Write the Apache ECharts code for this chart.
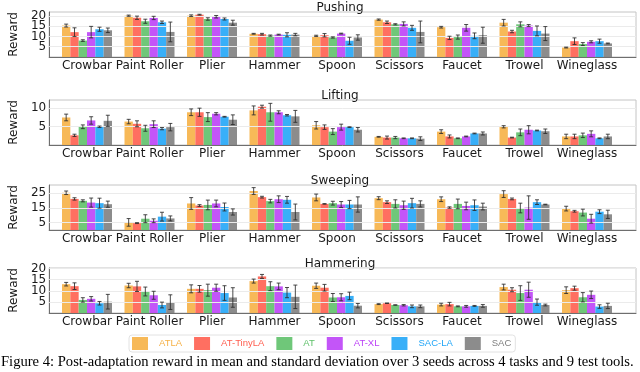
<!DOCTYPE html>
<html>
<head>
<meta charset="utf-8">
<script src="https://cdn.jsdelivr.net/npm/echarts@6/dist/echarts.min.js"></script>
<style>
  html, body { margin: 0; padding: 0; background: #fff; }
  #main { width: 640px; height: 372px; }
</style>
</head>
<body>
<div id="main"></div>
<script>
// 工具 / 方法
var tools = ['Crowbar', 'Paint Roller', 'Plier', 'Hammer', 'Spoon', 'Scissors', 'Faucet', 'Trowel', 'Wineglass'];
var methods = ['ATLA', 'AT-TinyLA', 'AT', 'AT-XL', 'SAC-LA', 'SAC'];
var colors = ['#f6b146', '#ff5f50', '#5fc16a', '#bc43f7', '#22a6f7', '#7f7f7f'];
var tasks = ['Pushing', 'Lifting', 'Sweeping', 'Hammering'];

// rows = methods, columns = tools
var pushingMean = [
  [15.3, 20.1, 20.1, 11.3, 10.3, 18.2, 14.5, 16.7, 4.6],
  [12.1, 19.1, 20.6, 11.1, 10.6, 16.9, 9.3, 12.4, 7.7],
  [8.0, 17.4, 18.5, 10.4, 9.5, 15.9, 9.7, 15.9, 6.3],
  [12.1, 19.0, 19.6, 10.9, 11.4, 16.1, 14.2, 15.3, 7.4],
  [13.5, 16.9, 18.5, 10.8, 7.9, 14.2, 10.3, 12.7, 7.7],
  [13.0, 12.2, 16.7, 10.9, 9.5, 12.2, 10.6, 11.4, 6.6]
];
var pushingSd = [
  [0.7, 0.3, 0.4, 0.2, 0.3, 0.3, 0.4, 1.6, 0.2],
  [2.1, 0.8, 0.2, 0.4, 0.8, 0.6, 0.8, 0.6, 1.6],
  [0.4, 1.0, 0.6, 0.3, 0.3, 0.3, 1.0, 1.2, 0.7],
  [2.8, 0.8, 0.6, 0.2, 0.2, 1.0, 1.6, 0.5, 0.5],
  [1.0, 0.6, 0.5, 1.0, 1.7, 1.2, 1.4, 2.4, 1.0],
  [1.1, 4.8, 1.2, 0.6, 1.3, 5.3, 3.9, 3.4, 0.2]
];
var liftingMean = [
  [7.4, 6.3, 8.8, 9.3, 5.3, 2.2, 3.6, 4.9, 2.3],
  [2.6, 5.7, 8.8, 10.3, 4.8, 2.0, 2.3, 2.0, 2.3],
  [4.9, 4.5, 7.5, 8.8, 3.6, 2.0, 1.8, 3.4, 2.6],
  [6.6, 5.6, 8.4, 8.8, 4.8, 1.8, 2.3, 4.1, 3.0],
  [4.9, 4.4, 7.6, 8.0, 4.8, 1.8, 3.1, 3.9, 1.8],
  [6.5, 4.8, 6.8, 7.7, 4.1, 1.7, 3.1, 3.7, 2.3]
];
var liftingSd = [
  [0.9, 0.6, 0.9, 1.2, 1.0, 0.1, 0.5, 0.3, 0.6],
  [0.3, 0.8, 1.1, 0.4, 0.6, 0.4, 0.4, 0.1, 0.6],
  [0.5, 0.8, 1.2, 2.4, 0.8, 0.3, 0.1, 0.9, 0.6],
  [1.0, 0.9, 0.3, 0.4, 0.8, 0.1, 0.1, 1.1, 0.8],
  [0.2, 0.3, 0.1, 0.2, 0.1, 0.1, 0.1, 0.1, 0.1],
  [1.5, 1.0, 1.3, 1.6, 0.6, 0.5, 0.4, 0.6, 0.6]
];
var sweepingMean = [
  [25.4, 5.2, 18.1, 26.6, 22.2, 21.7, 21.0, 24.5, 14.6],
  [21.2, 4.7, 16.7, 22.4, 17.8, 19.0, 15.3, 21.2, 12.8],
  [19.9, 7.7, 17.1, 19.7, 18.3, 17.8, 17.8, 15.0, 11.9],
  [18.7, 6.3, 18.1, 21.0, 17.4, 16.9, 16.4, 15.3, 7.7],
  [18.3, 9.1, 15.7, 20.6, 17.4, 18.3, 16.9, 19.0, 12.5],
  [17.6, 7.9, 12.3, 12.3, 17.4, 17.8, 16.0, 17.4, 10.7]
];
var sweepingSd = [
  [1.2, 2.6, 4.0, 2.3, 2.3, 1.0, 1.6, 2.3, 1.6],
  [0.8, 0.3, 0.6, 0.6, 0.2, 0.9, 0.5, 0.6, 0.6],
  [0.7, 2.7, 3.3, 1.2, 1.3, 2.8, 3.3, 3.3, 2.3],
  [3.1, 1.3, 2.3, 2.3, 2.0, 2.8, 2.6, 8.0, 3.0],
  [3.4, 3.0, 2.7, 2.3, 2.8, 3.3, 3.6, 1.6, 1.3],
  [2.1, 1.7, 2.1, 5.4, 5.2, 2.1, 2.3, 0.2, 2.8]
];
var hammeringMean = [
  [13.0, 12.4, 10.9, 14.4, 12.3, 4.0, 3.8, 11.7, 10.3],
  [12.1, 12.0, 10.9, 16.5, 11.4, 4.4, 4.0, 10.5, 11.2],
  [5.9, 9.7, 10.3, 12.1, 7.0, 3.6, 3.0, 9.0, 7.1],
  [6.4, 8.0, 11.4, 12.0, 7.1, 3.5, 3.0, 10.5, 8.2],
  [4.4, 3.6, 9.0, 9.2, 7.7, 3.0, 3.2, 4.9, 2.9],
  [5.1, 4.9, 7.0, 7.3, 3.3, 3.0, 3.2, 3.6, 3.2]
];
var hammeringSd = [
  [0.8, 1.0, 1.8, 0.9, 1.2, 0.2, 0.6, 1.3, 1.5],
  [1.5, 2.3, 1.5, 0.9, 1.5, 0.1, 0.8, 0.9, 0.9],
  [1.0, 2.0, 2.7, 2.0, 1.8, 0.1, 0.2, 3.3, 2.1],
  [1.0, 1.8, 1.6, 1.5, 1.6, 0.3, 0.4, 3.4, 1.7],
  [0.8, 1.3, 3.3, 2.3, 1.7, 0.6, 0.2, 1.4, 0.8],
  [3.3, 3.3, 4.4, 5.3, 1.0, 0.6, 0.6, 0.4, 1.2]
];

// y 轴刻度
var yMax = [21.9, 12.1, 30.7, 20.3];
var yTicks = [[5, 10, 15, 20], [5, 10], [5, 15, 25], [5, 10, 15, 20]];

var allMean = [pushingMean, liftingMean, sweepingMean, hammeringMean];
var allSd = [pushingSd, liftingSd, sweepingSd, hammeringSd];

var panelTop = [12, 100, 185, 268];
var panelH = 45;
var font = 'DejaVu Sans';

var chart = echarts.init(document.getElementById('main'));

var grid = [], xAxis = [], yAxis = [], series = [], title = [];

tasks.forEach(function (task, p) {
  var fg = p * 2, dg = p * 2 + 1;
  var ticks = yTicks[p];
  // 外框
  grid.push({ left: 34, width: 602, top: panelTop[p], height: panelH, show: true, borderColor: '#c4c4c4', borderWidth: 1, backgroundColor: 'transparent' });
  // 柱子区域
  grid.push({ left: 55.75, width: 562.5, top: panelTop[p], height: panelH });

  title.push({
    text: task, left: 335, top: panelTop[p] - 15, textAlign: 'center',
    textStyle: { fontFamily: font, fontSize: 12, fontWeight: 'normal', color: '#1a1a1a' }
  });

  xAxis.push({
    type: 'value', gridIndex: fg, min: 0, max: 1, show: true,
    axisLine: { show: true, lineStyle: { color: '#6e6e6e', width: 1 } },
    axisTick: { show: false }, axisLabel: { show: false }, splitLine: { show: false }
  });
  yAxis.push({
    type: 'value', gridIndex: fg, min: 0, max: yMax[p], interval: 5,
    name: 'Reward', nameLocation: 'middle', nameGap: 21, nameRotate: 90,
    nameTextStyle: { fontFamily: font, fontSize: 12, color: '#1a1a1a' },
    axisLine: { show: true, lineStyle: { color: '#6e6e6e', width: 1 } },
    axisTick: { show: false },
    axisLabel: {
      fontFamily: font, fontSize: 12, color: '#1a1a1a', margin: 3,
      showMinLabel: true, showMaxLabel: true,
      formatter: function (v) { return ticks.indexOf(v) >= 0 ? String(v) : ''; }
    },
    splitLine: { show: false }
  });

  // 网格线 (只画有标签的刻度)
  series.push({
    type: 'line', xAxisIndex: fg, yAxisIndex: fg, data: [], silent: true, animation: false,
    markLine: {
      silent: true, symbol: ['none', 'none'], label: { show: false },
      lineStyle: { color: '#ebebeb', width: 1, type: 'solid' },
      data: ticks.map(function (t) { return { yAxis: t }; })
    }
  });

  xAxis.push({
    type: 'category', gridIndex: dg, data: tools,
    axisLine: { show: false }, axisTick: { show: false },
    axisLabel: { fontFamily: font, fontSize: 12, color: '#1a1a1a', margin: 3, interval: 0 }
  });
  yAxis.push({
    type: 'value', gridIndex: dg, min: 0, max: yMax[p], show: false, splitLine: { show: false }
  });

  methods.forEach(function (m, s) {
    series.push({
      name: m, type: 'bar', xAxisIndex: dg, yAxisIndex: dg,
      barGap: '0%', barCategoryGap: '20%',
      itemStyle: { color: colors[s], opacity: 0.9 },
      data: allMean[p][s],
      animation: false
    });
  });

  // 误差线
  var errData = [];
  methods.forEach(function (m, s) {
    tools.forEach(function (t, i) {
      errData.push([i, allMean[p][s][i], allSd[p][s][i], s]);
    });
  });
  series.push({
    type: 'custom', xAxisIndex: dg, yAxisIndex: dg, silent: true, animation: false, z: 10,
    data: errData,
    encode: { x: 0, y: 1 },
    renderItem: function (params, api) {
      var i = api.value(0), mean = api.value(1), sd = api.value(2), s = api.value(3);
      var bandW = api.size([1, 0])[0];
      var barW = bandW * 0.8 / 6;
      var c = api.coord([i, mean]);
      var cx = c[0] + (s - 2.5) * barW;
      var yTop = api.coord([i, mean + sd])[1];
      var yBot = api.coord([i, mean - sd])[1];
      var cap = 2;
      var st = { stroke: '#2b2b2b', lineWidth: 1, opacity: 0.85 };
      return {
        type: 'group',
        children: [
          { type: 'line', shape: { x1: cx, y1: yTop, x2: cx, y2: yBot }, style: st },
          { type: 'line', shape: { x1: cx - cap, y1: yTop, x2: cx + cap, y2: yTop }, style: st },
          { type: 'line', shape: { x1: cx - cap, y1: yBot, x2: cx + cap, y2: yBot }, style: st }
        ]
      };
    }
  });
});

chart.setOption({
  animation: false,
  title: title,
  grid: grid,
  xAxis: xAxis,
  yAxis: yAxis,
  legend: {
    left: 129, top: 335,
    data: methods.map(function (m, s) {
      return { name: m, textStyle: { color: colors[s] } };
    }),
    icon: 'rect', itemWidth: 16, itemHeight: 13, itemGap: 12,
    padding: [2, 4, 2, 3],
    borderColor: '#e2e2e2', borderWidth: 1, borderRadius: 3,
    textStyle: { fontFamily: 'Liberation Sans', fontSize: 9.5, padding: [0, 0, 0, 6] },
    selectedMode: false
  },
  graphic: [{
    type: 'text', left: 1, top: 355,
    style: {
      text: 'Figure 4: Post-adaptation reward in mean and standard deviation over 3 seeds across 4 tasks and 9 test tools.',
      font: '14.6px "Liberation Serif"', fill: '#000'
    }
  }],
  series: series
});
</script>
</body>
</html>
